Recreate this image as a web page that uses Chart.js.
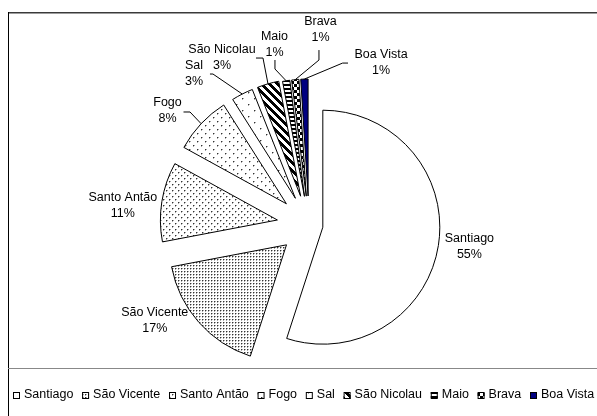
<!DOCTYPE html>
<html>
<head>
<meta charset="utf-8">
<script src="https://cdn.jsdelivr.net/npm/chart.js@4.4.1/dist/chart.umd.min.js"></script>
<style>
  html, body { margin: 0; padding: 0; background: #fff; }
  #wrap { position: relative; width: 597px; height: 416px; }
</style>
</head>
<body>
<div id="wrap"><canvas id="ilhasChart"></canvas></div>
<script>
// dados do gráfico
const ilhas = ['Santiago', 'São Vicente', 'Santo Antão', 'Fogo', 'Sal', 'São Nicolau', 'Maio', 'Brava', 'Boa Vista'];
const percentagens = [55, 17, 11, 8, 3, 3, 1, 1, 1];
const rotulos = ['55%', '17%', '11%', '8%', '3%', '3%', '1%', '1%', '1%'];

// aparência (separada dos dados)
const explosao = [14, 30, 32, 31, 30, 30, 29, 29, 29];
const raio = 117;
const fonte = '"Liberation Sans", Arial, sans-serif';

// posição de cada rótulo relativa ao ponto exterior da fatia
const posRotulo = [[31, 1], [-44, -2], [-39, 4], [-33.6, -12.7], [-48.3, -20], [-46, -25.8], [-11.7, -35.8], [25.2, -50.6], [76.6, -17]];
// linhas de ligação (relativas ao centro do rótulo), terminam na fatia
const guias = [null, null, null,
  [[16, 1], [22.5, 1]],
  [[16, 0], [19, 0]],
  [[34, 0], [41, 0]],
  [[0.5, 15], [0.5, 24]],
  [[-1.5, 21], [-1.5, 31]],
  [[-33, 1], [-38.4, 1]]];

// padrões de preenchimento
function padrao(w, h, pintar) {
  const c = document.createElement('canvas');
  c.width = w;
  c.height = h;
  const g = c.getContext('2d');
  g.fillStyle = '#fff';
  g.fillRect(0, 0, w, h);
  pintar(g);
  return g.createPattern(c, 'repeat');
}

function ponto(g, x, y) {
  g.fillStyle = '#333';
  g.fillRect(x, y, 1, 1);
  g.fillStyle = '#aaa';
  g.fillRect(x + 1, y, 1, 1);
  g.fillRect(x, y + 1, 1, 1);
}

const fundos = [
  '#ffffff',
  padrao(3, 3, (g) => ponto(g, 1, 1)),
  padrao(6, 6, (g) => { ponto(g, 1, 1); ponto(g, 4, 4); }),
  padrao(8, 8, (g) => { ponto(g, 1, 1); ponto(g, 5, 5); }),
  padrao(12, 12, (g) => { ponto(g, 2, 2); ponto(g, 8, 8); }),
  padrao(8, 8, (g) => {
    g.fillStyle = '#000';
    for (let y = 0; y < 8; y++) {
      for (let x = 0; x < 8; x++) {
        if ((x - y + 16) % 8 < 4) g.fillRect(x, y, 1, 1);
      }
    }
  }),
  padrao(4, 4, (g) => { g.fillStyle = '#000'; g.fillRect(0, 0, 4, 2); }),
  padrao(6, 6, (g) => { g.fillStyle = '#000'; g.fillRect(0, 0, 3, 3); g.fillRect(3, 3, 3, 3); }),
  '#000080',
];

// afasta cada fatia do centro ao longo da sua bissetriz
const explodir = {
  id: 'explodir',
  afterDatasetUpdate(chart, args) {
    args.meta.data.forEach((arc, i) => {
      const meio = (arc.startAngle + arc.endAngle) / 2;
      arc.x += Math.cos(meio) * explosao[i];
      arc.y += Math.sin(meio) * explosao[i];
    });
  },
};

// moldura, rótulos e legenda
const extras = {
  id: 'extras',
  afterDraw(chart) {
    const ctx = chart.ctx;
    const arcs = chart.getDatasetMeta(0).data;
    ctx.save();

    // moldura
    ctx.fillStyle = '#3a3a3a';
    ctx.fillRect(8, 12, 589, 1.5);
    ctx.fillStyle = '#000';
    ctx.fillRect(8, 12, 1, 404);
    ctx.fillStyle = '#888';
    ctx.fillRect(8, 368, 589, 1);

    // rótulos
    ctx.font = '12.5px ' + fonte;
    ctx.textAlign = 'center';
    ctx.textBaseline = 'middle';
    ctx.strokeStyle = '#000';
    ctx.lineWidth = 1;
    arcs.forEach((arc, i) => {
      const meio = (arc.startAngle + arc.endAngle) / 2;
      const px = arc.x + Math.cos(meio) * arc.outerRadius;
      const py = arc.y + Math.sin(meio) * arc.outerRadius;
      const lx = px + posRotulo[i][0];
      const ly = py + posRotulo[i][1];
      if (guias[i]) {
        ctx.beginPath();
        guias[i].forEach((p, k) => {
          if (k === 0) ctx.moveTo(lx + p[0], ly + p[1]);
          else ctx.lineTo(lx + p[0], ly + p[1]);
        });
        ctx.lineTo(px, py);
        ctx.stroke();
      }
      ctx.fillStyle = '#000';
      ctx.fillText(ilhas[i], lx, ly - 8);
      ctx.fillText(rotulos[i], lx, ly + 8);
    });

    // legenda
    ctx.font = '12.5px ' + fonte;
    ctx.textAlign = 'left';
    const larguras = ilhas.map((n) => ctx.measureText(n).width);
    const inicio = 13, recuo = 11, caixa = 7, inicioUltimo = 541, yLeg = 395;
    const soma = larguras.slice(0, -1).reduce((a, b) => a + b, 0);
    const n = ilhas.length - 1;
    const gap = (inicioUltimo - recuo - inicio - soma - n * recuo) / n;
    let x = inicio;
    ilhas.forEach((nome, i) => {
      ctx.fillStyle = fundos[i];
      ctx.fillRect(x, yLeg - 3, caixa, caixa);
      ctx.strokeRect(x + 0.5, yLeg - 2.5, caixa - 1, caixa - 1);
      ctx.fillStyle = '#000';
      ctx.fillText(nome, x + recuo, yLeg);
      x += recuo + larguras[i] + gap;
    });

    ctx.restore();
  },
};

new Chart(document.getElementById('ilhasChart'), {
  type: 'pie',
  data: {
    labels: ilhas,
    datasets: [{
      data: percentagens,
      backgroundColor: fundos,
      borderColor: '#000',
      borderWidth: 1,
      radius: raio,
      clip: false,
    }],
  },
  options: {
    responsive: true,
    maintainAspectRatio: false,
    animation: false,
    events: [],
    layout: { padding: { left: 21, top: 34, right: 0, bottom: 0 } },
    plugins: {
      legend: { display: false },
      tooltip: { enabled: false },
    },
  },
  plugins: [explodir, extras],
});
</script>
</body>
</html>
